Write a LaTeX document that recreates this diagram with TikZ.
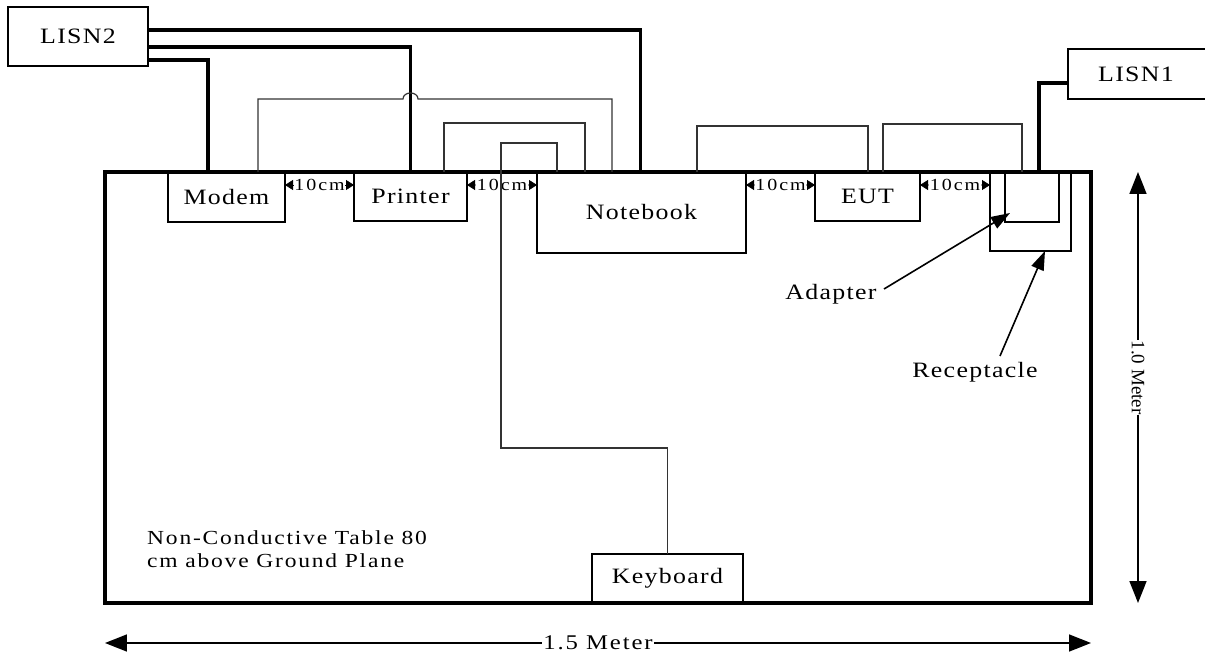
\documentclass[tikz,border=0pt]{standalone}
\usepackage{fontspec}
\setmainfont{Liberation Serif}
\newfontfamily\lblfont[FakeStretch=1.18,LetterSpace=6]{Liberation Serif}
\newfontfamily\notefont[FakeStretch=1.18,LetterSpace=9]{Liberation Serif}
\newfontfamily\smallfont[FakeStretch=1.18,LetterSpace=12]{Liberation Serif}
\usetikzlibrary{arrows.meta}
\begin{document}
\begin{tikzpicture}[x=1bp,y=-1bp,
  box/.style={draw, line width=1.8bp, inner sep=0pt, outer sep=0pt, font=\lblfont\fontsize{22}{26}\selectfont},
  lbl/.style={inner sep=0pt, font=\lblfont\fontsize{22}{26}\selectfont},
  power/.style={line width=3.4bp},
  cable/.style={line width=1.2bp, black!80},
  gapdim/.style={line width=0.8bp, {Triangle[length=8bp,width=10bp]}-{Triangle[length=8bp,width=10bp]}},
  gaplbl/.style={fill=white, inner sep=0.3bp, font=\smallfont\fontsize{17}{20}\selectfont},
  bigdim/.style={line width=1.6bp, {Triangle[length=22bp,width=17bp]}-{Triangle[length=22bp,width=17bp]}},
  ptr/.style={line width=1.6bp, -{Triangle[length=19bp,width=13bp]}},
  notetxt/.style={anchor=base west, inner sep=0pt, font=\notefont\fontsize{20}{24}\selectfont}]
\useasboundingbox (0,0) rectangle (1205,655);
% equipment boxes
\node[box, minimum width=140bp, minimum height=59bp] (lisn2) at (78,36.5) {LISN2};
\begin{scope}
  \clip (0,0) rectangle (1205,655);
  \node[box, minimum width=147bp, minimum height=50bp] (lisn1) at (1141.5,74) {};
\end{scope}
\node[lbl] (lisn1t) at (1136,74) {LISN1};
\node[box, minimum width=117bp, minimum height=50bp] (modem) at (226.5,197) {Modem};
\node[box, minimum width=113bp, minimum height=49bp] (printer) at (410.5,196.5) {Printer};
\node[box, minimum width=209bp, minimum height=81bp] (notebook) at (641.5,212.5) {Notebook};
\node[box, minimum width=105bp, minimum height=49bp] (eut) at (867.5,196.5) {EUT};
\node[box, minimum width=81bp, minimum height=79bp] (recept) at (1030.5,211.5) {};
\node[box, minimum width=54bp, minimum height=50bp] (adapter) at (1032,197) {};
\node[box, minimum width=151bp, minimum height=49bp] (keyboard) at (667.5,578.5) {Keyboard};
% table
\node[draw, line width=3.4bp, inner sep=0pt, outer sep=0pt, minimum width=986bp, minimum height=431bp] (table) at (598,387.5) {};
% 10 cm spacings
\draw[gapdim] ([yshift=12bp]modem.east) -- node[gaplbl]{10cm} ([yshift=11.5bp]printer.west);
\draw[gapdim] ([yshift=11.5bp]printer.east) -- node[gaplbl]{10cm} ([yshift=27.5bp]notebook.west);
\draw[gapdim] ([yshift=27.5bp]notebook.east) -- node[gaplbl]{10cm} ([yshift=11.5bp]eut.west);
\draw[gapdim] ([yshift=11.5bp]eut.east) -- node[gaplbl]{10cm} ([yshift=26.5bp]recept.west);
% power cords
\draw[power] ([yshift=6.5bp]lisn2.east) -| ([xshift=103.5bp]notebook.north west);
\draw[power] ([yshift=-10.5bp]lisn2.east) -| (printer.north);
\draw[power] ([yshift=-23.5bp]lisn2.east) -| ([xshift=40bp]modem.north west);
\draw[power] ([xshift=34bp]adapter.north west) |- ([yshift=-9bp]lisn1.west);
% signal cables
\draw[cable] ([xshift=90bp]modem.north west) |- (403,99)
  .. controls (403,91) and (418,91) .. (418,99) -| ([xshift=75bp]notebook.north west);
\draw[cable] ([xshift=90bp]printer.north west) -- ++(0,-49) -| ([xshift=48bp]notebook.north west);
\draw[cable] ([xshift=20bp]notebook.north west) -- ++(0,-29) -- ++(-56,0) -- ++(0,305) -| (keyboard.north);
\draw[cable] ([xshift=-49bp]notebook.north east) -- ++(0,-46) -| ([xshift=53bp]eut.north west);
\draw[cable] ([xshift=-37bp]eut.north east) -- ++(0,-48) -| ([xshift=17bp]adapter.north west);
% labels and pointers
\node[lbl] (adlbl) at (831,294) {Adapter};
\node[lbl] (reclbl) at (975,372) {Receptacle};
\coordinate (adtail) at (884,289);
\coordinate (rectail) at (1000,356);
\draw[ptr] (adtail) -- ([shift={(-22bp,9bp)}]adapter.south);
\draw[ptr] (rectail) -- ([xshift=14.5bp]recept.south);
\node[notetxt] (note1) at (147,544) {Non-Conductive Table 80};
\node[notetxt] (note2) at (147,567) {cm above Ground Plane};
% overall dimensions
\draw[bigdim] ([xshift=47bp]table.north east) -- node[pos=0.477, fill=white, inner sep=1bp, rotate=-90, font=\fontsize{19}{22}\selectfont]{1.0 Meter} ([xshift=47bp]table.south east);
\draw[bigdim] ([yshift=-40bp]table.south west) -- node[pos=0.5, fill=white, inner sep=1bp, font=\notefont\fontsize{21}{24}\selectfont]{1.5 Meter} ([yshift=-40bp]table.south east);
\end{tikzpicture}
\end{document}
